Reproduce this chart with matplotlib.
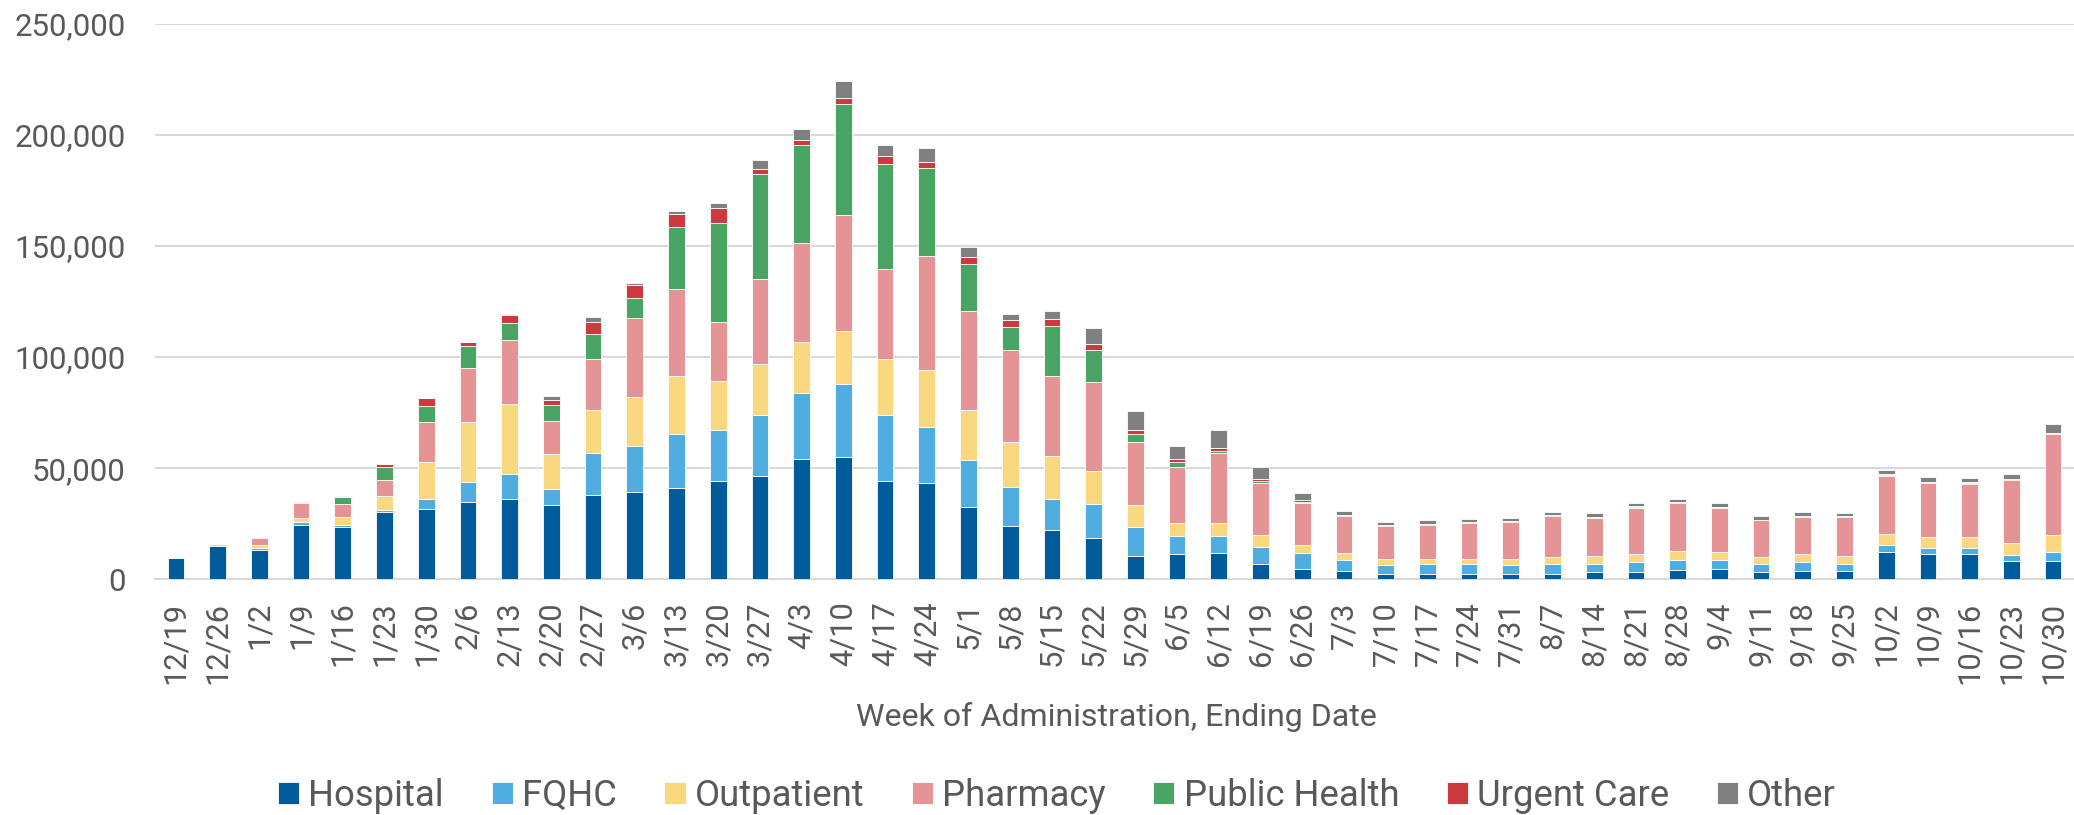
import matplotlib
matplotlib.use("Agg")
import matplotlib.pyplot as plt
import numpy as np

plt.rcParams['font.family'] = ['Roboto', 'DejaVu Sans']

weeks = ["12/19", "12/26", "1/2", "1/9", "1/16", "1/23", "1/30", "2/6", "2/13", "2/20",
         "2/27", "3/6", "3/13", "3/20", "3/27", "4/3", "4/10", "4/17", "4/24", "5/1",
         "5/8", "5/15", "5/22", "5/29", "6/5", "6/12", "6/19", "6/26", "7/3", "7/10",
         "7/17", "7/24", "7/31", "8/7", "8/14", "8/21", "8/28", "9/4", "9/11", "9/18",
         "9/25", "10/2", "10/9", "10/16", "10/23", "10/30"]

hospital = [9800, 14800, 13200, 24400, 23700, 30100, 31600, 34900, 36200, 33300,
            38100, 39500, 41200, 44300, 46600, 54300, 55100, 44200, 43500, 32600,
            24200, 22300, 18700, 10300, 11200, 11900, 6700, 4500, 3600, 2600,
            2400, 2600, 2400, 2600, 3100, 3100, 4100, 4800, 3100, 3600,
            3800, 12400, 11500, 11500, 8200, 8200]
fqhc = [100, 300, 700, 1500, 900, 1300, 4700, 8700, 11400, 7200,
        18900, 20300, 24100, 23000, 27400, 29500, 32700, 29800, 25200, 21200,
        17500, 13800, 15000, 13100, 8400, 7700, 7700, 7500, 5000, 3800,
        4300, 4100, 4000, 4100, 3900, 4500, 4500, 4100, 3600, 4000,
        3200, 3100, 2600, 2400, 2600, 4000]
outpatient = [300, 1000, 1400, 1800, 3400, 6100, 16400, 27200, 31400, 15900,
              19300, 22100, 26100, 22000, 23100, 23200, 23900, 25100, 25600, 22300,
              20100, 19400, 15100, 9900, 5800, 5800, 5400, 3500, 3100, 2700,
              2400, 2400, 2700, 3400, 3300, 3700, 4300, 3600, 3400, 3700,
              3700, 4900, 5000, 5300, 5500, 7700]
pharmacy = [0, 0, 3100, 6500, 5800, 7200, 18300, 24500, 28700, 14900,
            22800, 35800, 39300, 26300, 38100, 44500, 52200, 40400, 51400, 44500,
            41300, 36200, 40200, 28500, 25300, 31300, 23500, 18900, 16800, 14800,
            15300, 16300, 16800, 18200, 17500, 21000, 21500, 19800, 16400, 16900,
            17500, 26300, 24400, 23600, 28200, 45400]
public_health = [0, 0, 500, 800, 3300, 6000, 6800, 9500, 7700, 7000,
                 11400, 9100, 27700, 44800, 47100, 43800, 50000, 47600, 39300, 21500,
                 10600, 22400, 14400, 3800, 1900, 1200, 1000, 500, 200, 100,
                 100, 100, 100, 100, 100, 100, 100, 100, 100, 100,
                 100, 200, 100, 500, 300, 100]
urgent_care = [0, 0, 100, 100, 100, 1100, 3600, 1900, 3500, 2600,
               5300, 5700, 5800, 6800, 2200, 2300, 2700, 3300, 2600, 3100,
               3100, 2900, 2600, 1700, 1700, 1400, 700, 800, 400, 400,
               400, 300, 300, 400, 300, 400, 400, 300, 300, 300,
               300, 300, 400, 300, 500, 600]
other = [0, 0, 100, 200, 100, 200, 200, 300, 500, 1400,
         2200, 1000, 1400, 2000, 4300, 5100, 7800, 4900, 6700, 4300,
         2600, 3600, 6900, 8300, 5800, 7700, 5500, 3100, 1800, 1500,
         1600, 1400, 1400, 1300, 1500, 1600, 1300, 1700, 1400, 1800,
         1100, 2100, 2200, 1900, 2300, 3800]

series_names = ["Hospital", "FQHC", "Outpatient", "Pharmacy", "Public Health", "Urgent Care", "Other"]
series_values = [hospital, fqhc, outpatient, pharmacy, public_health, urgent_care, other]
colors = ["#005B9A", "#4FAEDF", "#FAD880", "#E49494", "#4AA564", "#CC3A40", "#808080"]

W, H = 2074, 815
fig = plt.figure(figsize=(W / 100, H / 100), dpi=100)
left, right = 155 / W, 2074 / W
bottom, top = 1 - 579.3 / H, 1 - 23.8 / H
ax = fig.add_axes([left, bottom, right - left, top - bottom])

x = np.arange(len(weeks))
base = np.zeros(len(weeks))
for name, vals, col in zip(series_names, series_values, colors):
    v = np.array(vals, dtype=float)
    ax.bar(x, v, width=0.4, bottom=base, color=col, label=name,
           edgecolor="white", linewidth=0.6, zorder=3)
    base += v

ax.set_xlim(-0.5, len(weeks) - 0.5)
ax.set_ylim(0, 250000)
ax.set_yticks(np.arange(0, 250001, 50000))
ax.yaxis.set_major_formatter(matplotlib.ticker.FuncFormatter(lambda v, p: f"{int(v):,}"))
ax.set_xticks(x)
ax.set_xticklabels(weeks, rotation=90)

tick_color = "#595959"
ax.tick_params(axis="y", length=0, pad=21, labelsize=22.5, labelcolor=tick_color)
ax.tick_params(axis="x", length=0, pad=16, labelsize=22.2, labelcolor=tick_color)
for lab in ax.get_xticklabels():
    lab.set_verticalalignment("top")

ax.grid(axis="y", color="#D9D9D9", linewidth=1.5, zorder=0)
for s in ["top", "right", "left"]:
    ax.spines[s].set_visible(False)
ax.spines["bottom"].set_color("#D9D9D9")
ax.spines["bottom"].set_linewidth(1.5)

ax.set_xlabel("Week of Administration, Ending Date", fontsize=23.1, color=tick_color)
ax.xaxis.set_label_coords((1116 - 155) / (2074 - 155), (579.3 - 701.5) / (579.3 - 23.8))

fs = 26.3
leg = fig.legend(loc="center", bbox_to_anchor=(1057 / W, 1 - 796 / H), ncol=7,
                 frameon=False, fontsize=fs, handlelength=0.58, handleheight=0.58,
                 handletextpad=0.25, columnspacing=1.3, labelcolor=tick_color)

fig.savefig("out.png", dpi=100)
